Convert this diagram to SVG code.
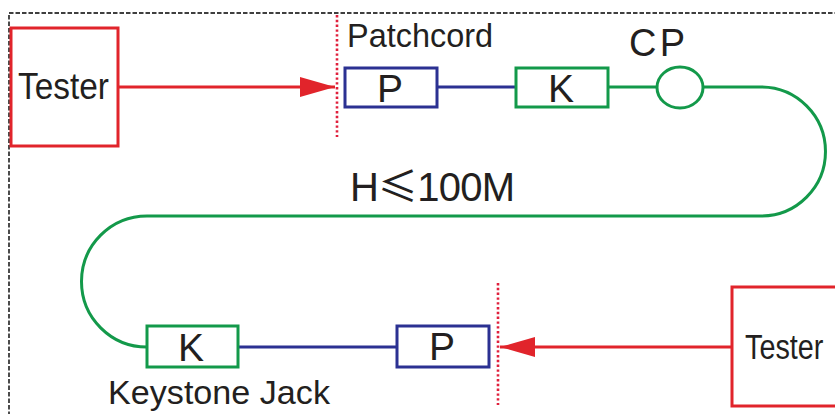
<svg xmlns="http://www.w3.org/2000/svg" width="835" height="414" viewBox="0 0 835 414">
<style>
.bg{fill:#ffffff}
.t{font-family:"Liberation Sans",Arial,sans-serif;fill:#231f20}
.red{fill:none;stroke:#e1242b;stroke-width:3}
.blue{fill:none;stroke:#2b3192;stroke-width:3}
.green{fill:none;stroke:#13994a;stroke-width:3}
.dot{fill:none;stroke:#e0203c;stroke-width:2.6;stroke-dasharray:2.4 2.4}
.border{fill:none;stroke:#000;stroke-width:1.4;stroke-dasharray:4.5 2}
</style>
<defs>
<marker id="ah" viewBox="0 0 35 20" refX="35" refY="10" markerWidth="35" markerHeight="20" markerUnits="userSpaceOnUse" orient="auto">
<path d="M0,0 L35,10 L0,20 Z" fill="#e1242b"/>
</marker>
</defs>
<rect class="bg" x="0" y="0" width="835" height="414"/>
<path class="border" d="M9,416 V13 H835"/>

<g id="connectors">
<line class="red" x1="118" y1="87" x2="335" y2="87" marker-end="url(#ah)"/>
<line class="red" x1="732" y1="347" x2="500" y2="347" marker-end="url(#ah)"/>
<line class="blue" x1="437" y1="87" x2="516" y2="87"/>
<line class="green" x1="608" y1="87" x2="657" y2="87"/>
<path class="green" d="M703,87 H761 A64.5,64.5 0 0 1 761,216 H147 A65,65 0 0 0 147,347"/>
<line class="blue" x1="238" y1="347" x2="397" y2="347"/>
<line class="dot" x1="337" y1="15" x2="337" y2="137"/>
<line class="dot" x1="498" y1="283" x2="498" y2="405"/>
</g>

<g id="tester1">
<rect class="red" x="11" y="28" width="107" height="118"/>
<text class="t" x="18" y="99" font-size="36" textLength="91" lengthAdjust="spacingAndGlyphs">Tester</text>
</g>

<g id="patchcord-p">
<rect class="blue" x="345" y="68" width="92" height="39"/>
<text class="t" x="390" y="102" font-size="39" text-anchor="middle">P</text>
<text class="t" x="347" y="47" font-size="34" textLength="146" lengthAdjust="spacingAndGlyphs">Patchcord</text>
</g>

<g id="patchcord-k">
<rect class="green" x="516" y="68" width="92" height="39"/>
<text class="t" x="561" y="102" font-size="39" text-anchor="middle">K</text>
</g>

<g id="cp">
<ellipse class="green" cx="680" cy="87.5" rx="23" ry="20.5"/>
<text class="t" x="629" y="56" font-size="38" textLength="56" lengthAdjust="spacing">CP</text>
</g>

<g id="length-label">
<text class="t" x="350" y="201" font-size="40" textLength="165" lengthAdjust="spacing">H<tspan font-family="'Noto Sans CJK SC',sans-serif">≤</tspan>100M</text>
</g>

<g id="keystone-k">
<rect class="green" x="147" y="326" width="91" height="41"/>
<text class="t" x="191" y="361" font-size="39" text-anchor="middle">K</text>
<text class="t" x="108" y="404" font-size="33" textLength="222" lengthAdjust="spacingAndGlyphs">Keystone Jack</text>
</g>

<g id="keystone-p">
<rect class="blue" x="397" y="326" width="92" height="41"/>
<text class="t" x="442" y="360" font-size="39" text-anchor="middle">P</text>
</g>

<g id="tester2">
<path class="red" d="M836,287 H732 V406 H836"/>
<text class="t" transform="translate(745,359) scale(0.8,1)" x="0" y="0" font-size="36">Tester</text>
</g>
</svg>
